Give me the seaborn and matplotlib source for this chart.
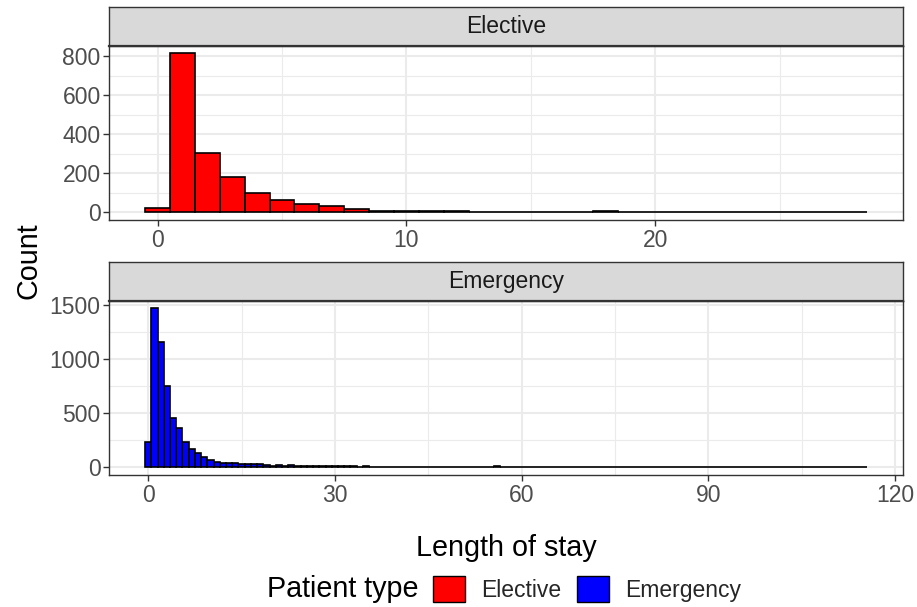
import numpy as np
import pandas as pd
import matplotlib
matplotlib.use("Agg")
import matplotlib.pyplot as plt
from matplotlib.patches import Patch
from matplotlib.ticker import MultipleLocator
import seaborn as sns

# Length-of-stay histogram counts (one bin per whole day, starting at day 0)
elective_counts = [20, 814, 304, 181, 101, 61, 41, 34, 16, 9, 8, 5, 7, 3, 4,
                   4, 2, 2, 5, 2, 1, 1, 1, 1, 1, 4, 1, 1, 1]
emergency_counts = [237, 1470, 1155, 755, 459, 364, 234, 166, 129, 92, 68, 52,
                    43, 37, 37, 31, 30, 30, 28, 22, 15, 18, 17, 24, 15, 14, 12,
                    11, 17, 11, 10, 9, 14, 8, 7, 8, 6, 5, 6, 5, 5, 4, 5, 4, 3,
                    4, 3, 4, 3, 3, 3, 2, 3, 2, 3, 4, 8, 3, 2, 2, 2, 1, 2, 2, 1,
                    2, 1, 1, 2, 1, 1, 1, 2, 1, 1, 1, 1, 1, 1, 1, 2, 1, 1, 1, 1,
                    1, 1, 1, 1, 1, 1, 1, 1, 1, 1, 1, 1, 1, 1, 1, 1, 1, 1, 1, 2,
                    1, 1, 1, 1, 1, 1, 1, 1, 1, 1, 1]
patient_types = ["Elective", "Emergency"]
type_colors = {"Elective": "#FF0000", "Emergency": "#0000FF"}

df = pd.concat([
    pd.DataFrame({"los": np.arange(len(c)), "count": c, "type": t})
    for t, c in zip(patient_types, [elective_counts, emergency_counts])
], ignore_index=True)

sns.set_theme(style="white")
plt.rcParams["font.family"] = ["Liberation Sans", "DejaVu Sans"]

W, H = 917, 607
fig = plt.figure(figsize=(W / 100, H / 100), dpi=100)

def fx(px):
    return px / W

def fy(py):
    return 1 - py / H

GRID = "#EBEBEB"
DARK = "#333333"
TICKLAB = "#4D4D4D"
BASE = 20.7
SMALL = 16.5

left_px, right_px = 109, 903
panels = [
    # (type, strip top, panel top, panel bottom, x major, y major)
    ("Elective", 7.3, 45.5, 220.3, 10, 200),
    ("Emergency", 262.3, 300.5, 475.3, 30, 500),
]

for ptype, s_top, p_top, p_bot, xmaj, ymaj in panels:
    ax = fig.add_axes([fx(left_px), fy(p_bot), fx(right_px - left_px),
                       (p_bot - p_top) / H])
    sub = df[df["type"] == ptype]
    sns.histplot(data=sub, x="los", weights="count", discrete=True,
                 color=type_colors[ptype], alpha=1, edgecolor="black",
                 linewidth=1.2, ax=ax, zorder=3)
    n = len(sub)
    ax.set_xlim(-0.5 - 0.05 * n, n - 0.5 + 0.05 * n)
    ymax = sub["count"].max()
    ax.set_ylim(-0.05 * ymax, 1.05 * ymax)

    ax.xaxis.set_major_locator(MultipleLocator(xmaj))
    ax.xaxis.set_minor_locator(MultipleLocator(xmaj / 2))
    ax.yaxis.set_major_locator(MultipleLocator(ymaj))
    ax.yaxis.set_minor_locator(MultipleLocator(ymaj / 2))
    ax.grid(which="major", color=GRID, linewidth=1.5, zorder=0)
    ax.grid(which="minor", color=GRID, linewidth=0.8, zorder=0)
    ax.set_axisbelow(True)
    ax.tick_params(which="major", length=4, width=1.0, color=DARK,
                   labelsize=SMALL, labelcolor=TICKLAB, pad=2,
                   bottom=True, left=True)
    ax.tick_params(which="minor", length=0)
    ax.set_xlabel("")
    ax.set_ylabel("")
    for sp in ax.spines.values():
        sp.set_color(DARK)
        sp.set_linewidth(1.0)
        sp.set_visible(True)

    # facet strip
    sax = fig.add_axes([fx(left_px), fy(p_top), fx(right_px - left_px),
                        (p_top - s_top) / H])
    sax.set_facecolor("#D9D9D9")
    sax.set_xticks([])
    sax.set_yticks([])
    for sp in sax.spines.values():
        sp.set_color(DARK)
        sp.set_linewidth(1.0)
    sax.spines["bottom"].set_linewidth(1.6)
    sax.text(0.5, 0.5, ptype, ha="center", va="center", fontsize=SMALL,
             color="#1A1A1A", transform=sax.transAxes)

fig.text(fx(28), fy(261), "Count", rotation=90, ha="center", va="center",
         fontsize=BASE, color="black")
fig.text(fx(506), fy(548), "Length of stay", ha="center", va="center",
         fontsize=BASE, color="black")

# legend
fig.text(fx(267), fy(589), "Patient type", ha="left", va="center",
         fontsize=BASE, color="black")
handles = [Patch(facecolor=type_colors[t], edgecolor="black", linewidth=1.0,
                 label=t) for t in patient_types]
fig.legend(handles=handles, loc="center left",
           bbox_to_anchor=(fx(433), fy(589)), ncol=2, frameon=False,
           fontsize=SMALL, handlelength=1.4, handleheight=1.4,
           handletextpad=0.7, columnspacing=0.7, borderpad=0,
           borderaxespad=0)

fig.savefig("out.png", dpi=100, facecolor="white")
